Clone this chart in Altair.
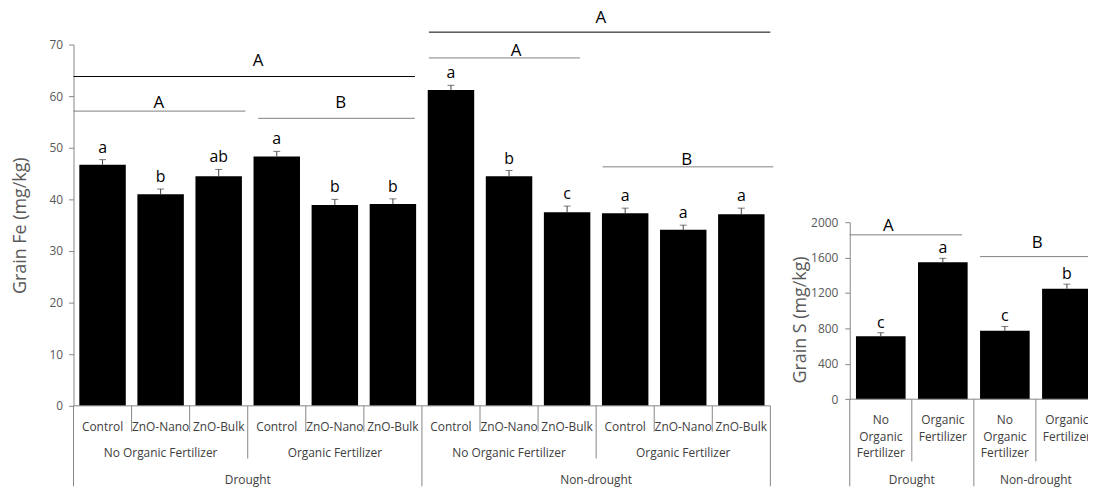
import altair as alt
import pandas as pd

# ---------------- Grain Fe (left panel) ----------------
fe_water = ["Drought"] * 6 + ["Non-drought"] * 6
fe_fert = (["No Organic Fertilizer"] * 3 + ["Organic Fertilizer"] * 3) * 2
fe_zno = ["Control", "ZnO-Nano", "ZnO-Bulk"] * 4
fe_mean = [46.7, 41.0, 44.5, 48.3, 38.9, 39.1, 61.2, 44.5, 37.5, 37.3, 34.1, 37.1]
fe_se = [1.0, 1.0, 1.3, 1.0, 1.1, 1.0, 0.9, 1.1, 1.2, 1.0, 0.9, 1.2]
fe_letter = ["a", "b", "ab", "a", "b", "b", "a", "b", "c", "a", "a", "a"]
fe_ticks = [0, 10, 20, 30, 40, 50, 60, 70]

# group comparison brackets (Fe), x in category units
fe_br_label = ["A", "A", "B", "A", "A", "B"]
fe_br_tier = ["main", "sub", "sub", "main", "sub", "sub"]
fe_br_y = [63.8, 57.1, 55.7, 72.4, 67.4, 46.3]
fe_br_from = [0.0, 0.0, 3.18, 6.12, 6.12, 9.11]
fe_br_to = [5.88, 2.96, 5.88, 12.0, 8.72, 12.05]
fe_br_lx = [3.18, 1.47, 4.6, 9.08, 7.62, 10.56]
fe_br_ly = [65.8, 57.75, 57.75, 74.2, 67.75, 46.6]

# ---------------- Grain S (right panel) ----------------
s_water = ["Drought", "Drought", "Non-drought", "Non-drought"]
s_fert = ["No Organic Fertilizer", "Organic Fertilizer", "No Organic Fertilizer", "Organic Fertilizer"]
s_mean = [710, 1547, 774, 1248]
s_se = [41, 45, 48, 52]
s_letter = ["c", "a", "c", "b"]
s_ticks = [0, 400, 800, 1200, 1600, 2000]

s_br_label = ["A", "B"]
s_br_tier = ["sub", "sub"]
s_br_y = [1857, 1611]
s_br_from = [0.0, 2.1]
s_br_to = [1.81, 4.3]
s_br_lx = [0.62, 3.02]
s_br_ly = [1899, 1708]

# ---------------- layout (pixels inside the view) ----------------
FE_R = [0, 702]
FE_YR = [364, 0]
S_R = [782, 1032]
S_YR = [357.3, 179]
AX = "#868686"
TXT = "#404040"
TICKTXT = "#595959"

fe_keys = [f"fe{i}" for i in range(len(fe_mean))]
s_keys = [f"s{i}" for i in range(len(s_mean))]

fe = pd.DataFrame({"key": fe_keys, "water": fe_water, "fert": fe_fert, "zno": fe_zno,
                   "mean": fe_mean, "se": fe_se, "letter": fe_letter})
s = pd.DataFrame({"key": s_keys, "water": s_water, "fert": s_fert,
                  "flabel": [f.replace(" ", "\n") for f in s_fert],
                  "mean": s_mean, "se": s_se, "letter": s_letter})

fe_br = pd.DataFrame({"label": fe_br_label, "tier": fe_br_tier, "y": fe_br_y,
                      "x0": fe_br_from, "x1": fe_br_to, "lx": fe_br_lx, "ly": fe_br_ly})
s_br = pd.DataFrame({"label": s_br_label, "tier": s_br_tier, "y": s_br_y,
                     "x0": s_br_from, "x1": s_br_to, "lx": s_br_lx, "ly": s_br_ly})


def boundaries(outer, inner):
    n = len(outer)
    rows = []
    for b in range(n + 1):
        if b == 0 or b == n or outer[b - 1] != outer[b]:
            lvl = 3
        elif inner is not None and inner[b - 1] != inner[b]:
            lvl = 2
        else:
            lvl = 1
        rows.append({"b": b, "level": lvl})
    return pd.DataFrame(rows)


def centers(labels):
    rows = []
    start = 0
    for i in range(1, len(labels) + 1):
        if i == len(labels) or labels[i] != labels[start]:
            rows.append({"name": labels[start], "c": (start + i) / 2})
            start = i
    return pd.DataFrame(rows)


fe_bound = boundaries(fe_water, fe_fert)
s_bound = boundaries(s_water, None)
fe_lvl2 = centers([w + "|" + f for w, f in zip(fe_water, fe_fert)])
fe_lvl2["name"] = fe_lvl2["name"].str.split("|").str[1]
fe_lvl3 = centers(fe_water)
s_lvl2 = centers(s_water)


# ---------------- encodings ----------------
def xb(keys, rng):
    return alt.X("key:N", scale=alt.Scale(domain=keys, range=rng, paddingInner=0.2, paddingOuter=0.1), axis=None)


def xq(field, n, rng):
    return alt.X(f"{field}:Q", scale=alt.Scale(domain=[0, n], range=rng, nice=False, zero=False), axis=None)


def yq(field, dom, rng, axis=None):
    return alt.Y(f"{field}:Q", scale=alt.Scale(domain=dom, range=rng, nice=False), axis=axis)


tier_color = alt.Color("tier:N", scale=alt.Scale(domain=["main", "sub"], range=["#000000", "#808080"]), legend=None)

fe_axis = alt.Axis(values=fe_ticks, orient="left", grid=False, tickSize=5, tickColor=AX, domainColor=AX,
                   labelColor=TICKTXT, labelFontSize=12, labelPadding=6, format="d",
                   title="Grain Fe (mg/kg)", titleFontSize=18, titleFontWeight="normal", titleColor=TICKTXT,
                   titleX=-53, titleY=182, titleBaseline="middle", titleAngle=270)
s_axis = alt.Axis(values=s_ticks, orient="left", offset=-782, grid=False, tickSize=5, tickColor=AX, domainColor=AX,
                  labelColor=TICKTXT, labelFontSize=12, labelPadding=7, format="d",
                  title="Grain S (mg/kg)", titleFontSize=18, titleFontWeight="normal", titleColor=TICKTXT,
                  titleX=-50, titleY=277, titleBaseline="middle", titleAngle=270)


def panel(df, keys, rng, dom, yr, axis, br, bound, lvl1_kind, lvl2, lvl3, letter_dy, spec):
    n = len(keys)
    L = []
    base = alt.Chart(df)
    tops = base.transform_calculate(top="datum.mean + datum.se")
    L.append(base.mark_bar(color="#000000").encode(x=xb(keys, rng), y=yq("mean", dom, yr, axis)))
    L.append(tops.mark_rule(color=TXT, strokeWidth=1).encode(
        x=xb(keys, rng), y=yq("mean", dom, yr), y2="top:Q"))
    L.append(tops.mark_tick(color=TXT, orient="horizontal", size=7, thickness=1).encode(
        x=xb(keys, rng), y=yq("top", dom, yr)))
    L.append(tops.mark_text(fontSize=16, color="#000000", baseline="alphabetic", dy=letter_dy).encode(
        x=xb(keys, rng), y=yq("top", dom, yr), text="letter:N"))
    # brackets
    bc = alt.Chart(br)
    L.append(bc.mark_rule(strokeWidth=1).encode(x=xq("x0", n, rng), x2="x1:Q", y=yq("y", dom, yr), color=tier_color))
    L.append(bc.mark_text(fontSize=17, color="#000000", baseline="alphabetic").encode(
        x=xq("lx", n, rng), y=yq("ly", dom, yr), text="label:N"))
    # x baseline
    L.append(alt.Chart(pd.DataFrame({"a": [0], "b": [n], "y": [0]})).mark_rule(color=AX, strokeWidth=1).encode(
        x=xq("a", n, rng), x2="b:Q", y=yq("y", dom, yr)))
    # dividers of the grouped category axis
    y0 = yr[0]
    for lvl, length in spec["div"].items():
        L.append(alt.Chart(bound).transform_filter(f"datum.level == {lvl}").mark_rule(color=AX, strokeWidth=1).encode(
            x=xq("b", n, rng), y=alt.value(y0), y2=alt.value(y0 + length)))
    # level labels
    if lvl1_kind == "single":
        L.append(base.mark_text(fontSize=12, color=TXT, baseline="middle").encode(
            x=xb(keys, rng), y=alt.value(spec["l1"]), text="zno:N"))
    else:
        L.append(base.mark_text(fontSize=12, color=TXT, baseline="top", lineBreak="\n", lineHeight=16.5).encode(
            x=xb(keys, rng), y=alt.value(spec["l1"]), text="flabel:N"))
    if lvl2 is not None:
        L.append(alt.Chart(lvl2).mark_text(fontSize=12, color=TXT, baseline="middle").encode(
            x=xq("c", n, rng), y=alt.value(spec["l2"]), text="name:N"))
    if lvl3 is not None:
        L.append(alt.Chart(lvl3).mark_text(fontSize=12, color=TXT, baseline="middle").encode(
            x=xq("c", n, rng), y=alt.value(spec["l3"]), text="name:N"))
    return L


left_layers = panel(fe, fe_keys, FE_R, [0, 70], FE_YR, fe_axis, fe_br, fe_bound, "single", fe_lvl2, fe_lvl3, -7,
                    {"div": {1: 26, 2: 53, 3: 81}, "l1": 385, "l2": 412, "l3": 439})
right_layers = panel(s, s_keys, S_R, [0, 2000], S_YR, s_axis, s_br, s_bound, "multi", s_lvl2, None, -5,
                     {"div": {1: 62.7, 3: 87.7}, "l1": 373.5, "l2": 439})

chart = alt.layer(*(left_layers + right_layers)).resolve_scale(
    x="independent", y="independent"
).properties(
    width=1022, height=364,
    autosize=alt.AutoSizeParams(type="none"),
    padding={"left": 66, "top": 35, "right": 0, "bottom": 83},
).configure(font="Open Sans").configure_view(stroke=None)

chart.save("out.html", embed_options={"renderer": "svg", "actions": False})
